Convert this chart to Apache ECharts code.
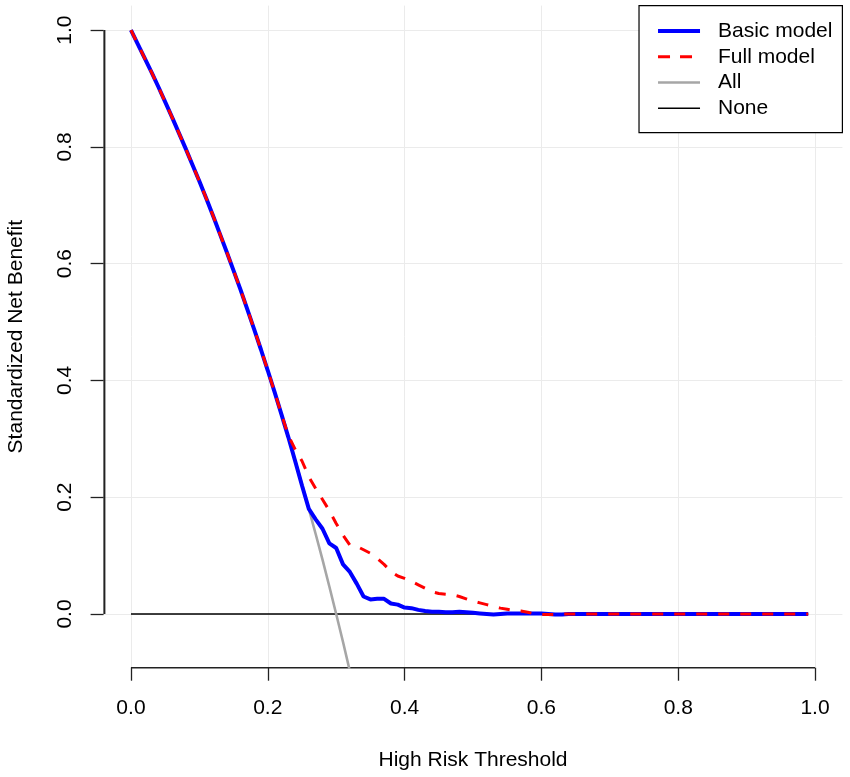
<!DOCTYPE html>
<html>
<head>
<meta charset="utf-8">
<script src="https://cdn.jsdelivr.net/npm/echarts@6/dist/echarts.min.js"></script>
<style>
  html, body { margin: 0; padding: 0; background: #fff; }
  #chart { width: 850px; height: 777px; }
</style>
</head>
<body>
<div id="chart"></div>
<script>
// decision curve: standardized net benefit by threshold
var thresholds = [
  0.00, 0.01, 0.02, 0.03, 0.04, 0.05, 0.06, 0.07, 0.08, 0.09,
  0.10, 0.11, 0.12, 0.13, 0.14, 0.15, 0.16, 0.17, 0.18, 0.19,
  0.20, 0.21, 0.22, 0.23, 0.24, 0.25, 0.26, 0.27, 0.28, 0.29,
  0.30, 0.31, 0.32, 0.33, 0.34, 0.35, 0.36, 0.37, 0.38, 0.39,
  0.40, 0.41, 0.42, 0.43, 0.44, 0.45, 0.46, 0.47, 0.48, 0.49,
  0.50, 0.51, 0.52, 0.53, 0.54, 0.55, 0.56, 0.57, 0.58, 0.59,
  0.60, 0.61, 0.62, 0.63, 0.64, 0.65, 0.66, 0.67, 0.68, 0.69,
  0.70, 0.71, 0.72, 0.73, 0.74, 0.75, 0.76, 0.77, 0.78, 0.79,
  0.80, 0.81, 0.82, 0.83, 0.84, 0.85, 0.86, 0.87, 0.88, 0.89,
  0.90, 0.91, 0.92, 0.93, 0.94, 0.95, 0.96, 0.97, 0.98, 0.99
];

var basicModel = [
  1.000, 0.976, 0.952, 0.928, 0.903, 0.877, 0.851, 0.824, 0.797, 0.769,
  0.741, 0.712, 0.682, 0.651, 0.620, 0.588, 0.556, 0.522, 0.488, 0.453,
  0.417, 0.380, 0.342, 0.303, 0.262, 0.220, 0.180, 0.162, 0.146, 0.121,
  0.113, 0.085, 0.072, 0.052, 0.030, 0.025, 0.026, 0.026, 0.018, 0.016,
  0.011, 0.010, 0.007, 0.005, 0.004, 0.004, 0.003, 0.003, 0.004, 0.003,
  0.002, 0.001, 0.000, -0.001, 0.000, 0.001, 0.001, 0.001, 0.001, 0.001,
  0.001, 0.000, -0.001, -0.001, 0.000, 0.000, 0.000, 0.000, 0.000, 0.000,
  0.000, 0.000, 0.000, 0.000, 0.000, 0.000, 0.000, 0.000, 0.000, 0.000,
  0.000, 0.000, 0.000, 0.000, 0.000, 0.000, 0.000, 0.000, 0.000, 0.000,
  0.000, 0.000, 0.000, 0.000, 0.000, 0.000, 0.000, 0.000, 0.000, 0.000
];

var fullModel = [
  1.000, 0.976, 0.952, 0.928, 0.903, 0.877, 0.851, 0.824, 0.797, 0.769,
  0.741, 0.712, 0.682, 0.651, 0.620, 0.588, 0.556, 0.522, 0.488, 0.453,
  0.417, 0.380, 0.342, 0.306, 0.282, 0.262, 0.235, 0.215, 0.196, 0.177,
  0.155, 0.135, 0.118, 0.116, 0.110, 0.104, 0.095, 0.085, 0.073, 0.065,
  0.061, 0.056, 0.050, 0.044, 0.038, 0.035, 0.034, 0.033, 0.030, 0.026,
  0.022, 0.019, 0.016, 0.013, 0.010, 0.008, 0.006, 0.005, 0.003, 0.000,
  -0.001, -0.001, -0.001, 0.000, 0.000, 0.000, 0.000, 0.000, 0.000, 0.000,
  0.000, 0.000, 0.000, 0.000, 0.000, 0.000, 0.000, 0.000, 0.000, 0.000,
  0.000, 0.000, 0.000, 0.000, 0.000, 0.000, 0.000, 0.000, 0.000, 0.000,
  0.000, 0.000, 0.000, 0.000, 0.000, 0.000, 0.000, 0.000, 0.000, 0.000
];

// treat-all line, only drawn until it leaves the plot
var treatAll = [
  1.000, 0.976, 0.952, 0.928, 0.903, 0.877, 0.851, 0.824, 0.797, 0.769,
  0.741, 0.712, 0.682, 0.651, 0.620, 0.588, 0.556, 0.522, 0.488, 0.453,
  0.417, 0.380, 0.342, 0.303, 0.263, 0.222, 0.180, 0.137, 0.093, 0.047,
  0.000, -0.048, -0.098
];

var treatNone = thresholds.map(function () { return 0; });

var tickValues = [0, 0.2, 0.4, 0.6, 0.8, 1.0];

function pairs(xs, ys) {
  return ys.map(function (y, i) { return [xs[i], y]; });
}

var font = 'Liberation Sans, Arial, sans-serif';
var xMin = -0.04, xMax = 1.04, yMin = -0.092, yMax = 1.042;
// the y axis line sits a hair inside the left edge so it is not clipped away
var yLineX = xMin + 0.0012;

// R-style axis lines that only run from the first to the last tick
function axisSegment(points) {
  return {
    type: 'line', clip: false, symbol: 'none',
    data: points,
    lineStyle: { color: '#222', width: 1.6 }
  };
}

var option = {
  animation: false,
  backgroundColor: '#fff',
  grid: { left: 103.6, right: 7.6, top: 5.6, bottom: 109.3, outerBoundsMode: 'none' },
  xAxis: {
    type: 'value',
    min: xMin,
    max: xMax,
    name: 'High Risk Threshold',
    nameLocation: 'middle',
    nameGap: 82,
    nameTextStyle: { fontFamily: font, fontSize: 21, color: '#000' },
    axisLine: { show: false, onZero: false },
    axisTick: { show: true, customValues: tickValues, length: 13, lineStyle: { color: '#222', width: 1.3 } },
    axisLabel: {
      customValues: tickValues, margin: 30, fontFamily: font, fontSize: 21, color: '#000',
      formatter: function (v) { return v.toFixed(1); }
    },
    splitLine: { show: true, lineStyle: { color: '#ebebeb', width: 1 } }
  },
  yAxis: {
    type: 'value',
    min: yMin,
    max: yMax,
    name: 'Standardized Net Benefit',
    nameLocation: 'middle',
    nameGap: 77,
    nameTextStyle: { fontFamily: font, fontSize: 21, color: '#000' },
    axisLine: { show: false, onZero: false },
    axisTick: { show: true, customValues: tickValues, length: 13, lineStyle: { color: '#222', width: 1.3 } },
    axisLabel: {
      customValues: tickValues, margin: 28, rotate: 90, fontFamily: font, fontSize: 21, color: '#000',
      formatter: function (v) { return v.toFixed(1); }
    },
    splitLine: { show: true, lineStyle: { color: '#ebebeb', width: 1 } }
  },
  legend: {
    orient: 'vertical',
    right: 7.6,
    top: 5.6,
    backgroundColor: '#fff',
    borderColor: '#000',
    borderWidth: 1.2,
    borderRadius: 0,
    padding: [15, 10, 14, 17],
    itemWidth: 42,
    itemHeight: 14,
    itemGap: 4.7,
    itemStyle: { opacity: 0 },
    textStyle: { fontFamily: font, fontSize: 21, color: '#000', padding: [0, 0, 0, 13] },
    data: [
      { name: 'Basic model', lineStyle: { width: 4 } },
      { name: 'Full model', lineStyle: { width: 3, type: [12, 10] } },
      { name: 'All', lineStyle: { width: 2.6 } },
      { name: 'None', lineStyle: { width: 1.4 } }
    ]
  },
  series: [
    axisSegment([[0, yMin], [1, yMin]]),
    axisSegment([[yLineX, 0], [yLineX, 1]]),
    {
      name: 'None', type: 'line', showSymbol: false, symbol: 'none',
      data: pairs(thresholds, treatNone),
      lineStyle: { color: '#000', width: 1.4 }, itemStyle: { color: '#000' }
    },
    {
      name: 'All', type: 'line', showSymbol: false, symbol: 'none',
      data: pairs(thresholds, treatAll),
      lineStyle: { color: '#a6a6a6', width: 2.6 }, itemStyle: { color: '#a6a6a6' }
    },
    {
      name: 'Basic model', type: 'line', showSymbol: false, symbol: 'none',
      data: pairs(thresholds, basicModel),
      lineStyle: { color: '#0000ff', width: 4 }, itemStyle: { color: '#0000ff' }
    },
    {
      name: 'Full model', type: 'line', showSymbol: false, symbol: 'none',
      data: pairs(thresholds, fullModel),
      lineStyle: { color: '#ff0000', width: 3, type: [11, 11] }, itemStyle: { color: '#ff0000' }
    }
  ]
};

var myChart = echarts.init(document.getElementById('chart'), null, { renderer: 'canvas' });
myChart.setOption(option);

// same y axis line again on its own layer, in case the series copy gets clipped
var yBottom = myChart.convertToPixel({ gridIndex: 0 }, [yLineX, 0]);
var yTop = myChart.convertToPixel({ gridIndex: 0 }, [yLineX, 1]);
myChart.setOption({
  graphic: {
    elements: [{
      id: 'yAxisLine', type: 'line', zlevel: 1, z: 100, silent: true,
      shape: { x1: yBottom[0], y1: yBottom[1], x2: yTop[0], y2: yTop[1] },
      style: { stroke: '#222', lineWidth: 1.6 }
    }]
  }
});
</script>
</body>
</html>
